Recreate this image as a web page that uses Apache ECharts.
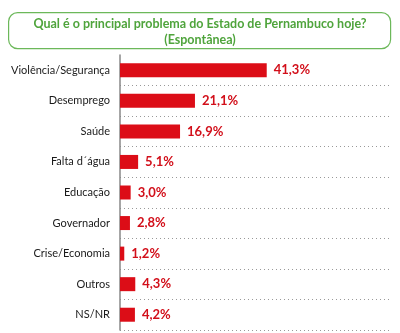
<!DOCTYPE html>
<html><head><meta charset="utf-8">
<script src="https://cdn.jsdelivr.net/npm/echarts@6/dist/echarts.min.js"></script>
<style>html,body{margin:0;padding:0;background:#fff}#c{width:400px;height:333px}</style>
</head><body><div id="c"></div>
<script>
const categories = ["Violência/Segurança","Desemprego","Saúde","Falta d´água","Educação","Governador","Crise/Economia","Outros","NS/NR"];
const values = [41.3, 21.1, 16.9, 5.1, 3.0, 2.8, 1.2, 4.3, 4.2];
const valueLabels = ["41,3%","21,1%","16,9%","5,1%","3,0%","2,8%","1,2%","4,3%","4,2%"];
const titleLines = ["Qual é o principal problema do Estado de Pernambuco hoje?","(Espontânea)"];

const chart = echarts.init(document.getElementById('c'), null, {renderer:'canvas'});
chart.setOption({
  animation:false,
  backgroundColor:'#fff',
  graphic:[{
    type:'rect', left:8, top:12, shape:{width:382, height:36, r:9},
    style:{fill:'#fff', stroke:'#6cb85a', lineWidth:1.2}
  },{
    type:'text', x:200, y:16,
    style:{text:titleLines.join('\n'), fill:'#4fa43c', font:'bold 12.5px Lato', align:'center', verticalAlign:'top', lineHeight:16}
  }],
  grid:{left:120, top:55, width:270, height:275},
  xAxis:{type:'value', min:0, max:76, show:false},
  yAxis:{type:'category', data:categories, inverse:true, offset:4,
    axisLine:{show:true, lineStyle:{color:'#888', width:1.5}},
    axisTick:{show:false},
    axisLabel:{color:'#1a1a1a', fontSize:11, fontFamily:'Lato', margin:6},
    splitLine:{show:true, interval:function(i){return i>0;}, lineStyle:{color:'#999', type:[1,3], width:1}}
  },
  series:[{
    type:'bar', data:values, barWidth:14,
    itemStyle:{color:'#dc0d17'},
    label:{show:true, position:'right', distance:7, color:'#d20f1a', fontSize:13, fontWeight:'bold', fontFamily:'Lato',
      formatter:function(p){return valueLabels[p.dataIndex];}}
  }]
});
</script></body></html>
